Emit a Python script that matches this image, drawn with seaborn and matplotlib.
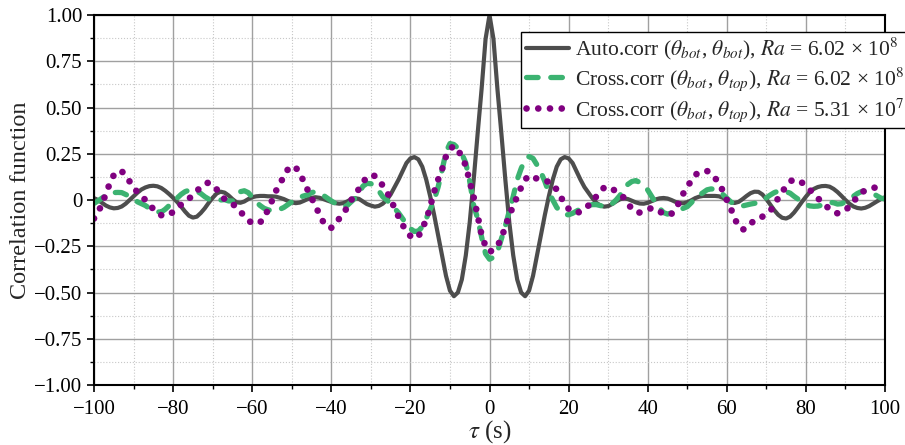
import numpy as np
import pandas as pd
import matplotlib
matplotlib.use("Agg")
import matplotlib.pyplot as plt
from matplotlib.ticker import MultipleLocator, FuncFormatter
import seaborn as sns

sns.set_theme(style="ticks")
plt.rcParams["font.family"] = ["Liberation Serif", "DejaVu Serif"]
plt.rcParams["mathtext.fontset"] = "stix"
plt.rcParams["axes.unicode_minus"] = True

# lag axis (s), one sample per second from -100 to 100
tau = np.arange(-100, 101)

# auto-correlation theta_bot / theta_bot, Ra = 6.02e8
auto_bot = [
    0.01, 0.0, -0.015, -0.03, -0.04, -0.045, -0.043, -0.035, -0.02, 0.0,          # -100
    0.02, 0.04, 0.057, 0.068, 0.075, 0.077, 0.074, 0.065, 0.05, 0.032,           # -90
    0.012, -0.01, -0.035, -0.062, -0.085, -0.095, -0.09, -0.07, -0.045, -0.015,   # -80
    0.012, 0.035, 0.045, 0.04, 0.025, 0.005, -0.012, -0.015, -0.008, 0.005,      # -70
    0.015, 0.02, 0.022, 0.022, 0.02, 0.02, 0.018, 0.012, 0.005, -0.005,          # -60
    -0.013, -0.017, -0.014, -0.005, 0.005, 0.012, 0.015, 0.012, 0.005, -0.003,   # -50
    -0.01, -0.017, -0.02, -0.017, -0.008, 0.004, 0.01, 0.006, -0.008, -0.022,    # -40
    -0.03, -0.036, -0.032, -0.02, 0.0, 0.03, 0.07, 0.11, 0.155, 0.2,             # -30
    0.225, 0.232, 0.22, 0.18, 0.11, 0.02, -0.08, -0.19, -0.30, -0.41,            # -20
    -0.49, -0.52, -0.50, -0.43, -0.30, -0.12, 0.11, 0.36, 0.60, 0.87,            # -10
    1.0, 0.87, 0.60, 0.36, 0.11, -0.12, -0.30, -0.43, -0.50, -0.52,              # 0
    -0.49, -0.41, -0.30, -0.19, -0.08, 0.02, 0.11, 0.18, 0.22, 0.232,            # 10
    0.225, 0.2, 0.155, 0.11, 0.07, 0.04, 0.01, -0.015, -0.03, -0.036,            # 20
    -0.033, -0.022, -0.008, 0.004, 0.009, 0.005, -0.004, -0.013, -0.019, -0.02,  # 30
    -0.015, -0.006, 0.003, 0.009, 0.011, 0.008, 0.0, -0.01, -0.016, -0.018,      # 40
    -0.012, -0.002, 0.01, 0.018, 0.022, 0.022, 0.022, 0.022, 0.02, 0.012,        # 50
    0.0, -0.012, -0.016, -0.01, 0.005, 0.022, 0.037, 0.045, 0.044, 0.03,         # 60
    0.005, -0.025, -0.055, -0.08, -0.096, -0.1, -0.09, -0.068, -0.04, -0.01,     # 70
    0.018, 0.043, 0.06, 0.07, 0.075, 0.076, 0.072, 0.06, 0.043, 0.022,           # 80
    0.0, -0.02, -0.035, -0.043, -0.046, -0.042, -0.033, -0.02, -0.007, 0.005,    # 90
    0.015,                                                                        # 100
]

# cross-correlation theta_bot / theta_top, Ra = 6.02e8
cross_hi = [
    -0.018, -0.005, 0.01, 0.025, 0.036, 0.04, 0.041, 0.04, 0.03, 0.02,           # -100
    0.005, -0.01, -0.02, -0.03, -0.045, -0.057, -0.064, -0.065, -0.05, -0.03,    # -90
    -0.01, 0.01, 0.03, 0.045, 0.053, 0.054, 0.048, 0.035, 0.018, 0.005,          # -80
    -0.002, -0.002, 0.0, 0.002, -0.005, -0.005, 0.02, 0.045, 0.05, 0.04,         # -70
    0.015, -0.01, -0.03, -0.045, -0.053, -0.058, -0.056, -0.05, -0.04, -0.025,   # -60
    -0.01, 0.002, 0.015, 0.022, 0.028, 0.04, 0.045, 0.035, 0.025, 0.01,          # -50
    -0.005, -0.018, -0.03, -0.038, -0.03, -0.01, 0.01, 0.04, 0.075, 0.09,        # -40
    0.088, 0.074, 0.05, 0.018, 0.0, -0.02, -0.045, -0.07, -0.1, -0.13,           # -30
    -0.155, -0.17, -0.168, -0.145, -0.1, -0.05, 0.0, 0.07, 0.16, 0.26,           # -20
    0.305, 0.3, 0.28, 0.25, 0.2, 0.1, -0.03, -0.1, -0.2, -0.29,                  # -10
    -0.32, -0.31, -0.28, -0.21, -0.14, -0.06, 0.02, 0.11, 0.17, 0.22,            # 0
    0.235, 0.225, 0.19, 0.15, 0.1, 0.04, 0.0, -0.04, -0.065, -0.078,             # 10
    -0.08, -0.072, -0.06, -0.048, -0.038, -0.03, -0.025, -0.025, -0.03, -0.035,  # 20
    -0.035, -0.02, 0.0, 0.025, 0.06, 0.085, 0.1, 0.105, 0.095, 0.075,            # 30
    0.054, 0.02, -0.015, -0.045, -0.068, -0.076, -0.07, -0.06, -0.054, -0.045,   # 40
    -0.036, -0.015, 0.01, 0.025, 0.04, 0.055, 0.06, 0.058, 0.045, 0.03,          # 50
    0.01, -0.01, -0.022, -0.03, -0.032, -0.027, -0.022, -0.018, -0.015, -0.005,  # 60
    0.012, 0.027, 0.04, 0.048, 0.05, 0.045, 0.037, 0.02, 0.005, -0.012,          # 70
    -0.025, -0.032, -0.034, -0.033, -0.028, -0.02, -0.012, -0.015, -0.022, -0.02,  # 80
    -0.01, 0.003, 0.02, 0.035, 0.045, 0.048, 0.045, 0.035, 0.022, 0.01,          # 90
    0.005,                                                                        # 100
]

# cross-correlation theta_bot / theta_top, Ra = 5.31e7
cross_lo = [
    -0.1, -0.065, -0.025, 0.035, 0.09, 0.135, 0.158, 0.155, 0.135, 0.1,          # -100
    0.07, 0.04, 0.02, 0.0, -0.022, -0.05, -0.072, -0.082, -0.087, -0.08,         # -90
    -0.064, -0.045, -0.025, -0.01, 0.007, 0.026, 0.048, 0.072, 0.088, 0.094,     # -80
    0.08, 0.058, 0.03, 0.005, -0.008, -0.02, -0.04, -0.06, -0.09, -0.11,         # -70
    -0.125, -0.13, -0.12, -0.1, -0.05, -0.004, 0.049, 0.085, 0.13, 0.165,        # -60
    0.185, 0.175, 0.148, 0.1, 0.055, 0.01, -0.03, -0.08, -0.12, -0.148,          # -50
    -0.15, -0.135, -0.1, -0.075, -0.04, -0.002, 0.03, 0.06, 0.095, 0.125,        # -40
    0.135, 0.13, 0.11, 0.078, 0.045, 0.005, -0.045, -0.09, -0.135, -0.165,       # -30
    -0.195, -0.207, -0.2, -0.15, -0.11, -0.036, 0.045, 0.11, 0.165, 0.237,       # -20
    0.275, 0.293, 0.27, 0.235, 0.185, 0.1, 0.015, -0.085, -0.19, -0.25,          # -10
    -0.28, -0.27, -0.25, -0.205, -0.145, -0.08, -0.035, 0.02, 0.068, 0.11,       # 0
    0.133, 0.125, 0.115, 0.108, 0.104, 0.098, 0.087, 0.055, 0.015, -0.015,       # 10
    -0.048, -0.065, -0.07, -0.063, -0.05, -0.03, -0.015, 0.02, 0.045, 0.068,     # 20
    0.072, 0.062, 0.045, 0.027, 0.013, -0.02, -0.048, -0.066, -0.068, -0.062,    # 30
    -0.052, -0.043, -0.048, -0.062, -0.075, -0.082, -0.075, -0.05, -0.01, 0.035,  # 40
    0.07, 0.105, 0.135, 0.15, 0.157, 0.157, 0.143, 0.12, 0.09, 0.05,             # 50
    0.0, -0.045, -0.1, -0.145, -0.16, -0.153, -0.13, -0.108, -0.1, -0.09,        # 60
    -0.077, -0.06, -0.025, 0.01, 0.045, 0.073, 0.1, 0.112, 0.105, 0.094,         # 70
    0.075, 0.055, 0.033, 0.01, -0.01, -0.03, -0.05, -0.065, -0.072, -0.068,      # 80
    -0.055, -0.035, -0.01, 0.018, 0.04, 0.052, 0.06, 0.067, 0.066, 0.063,        # 90
    0.06,                                                                         # 100
]

labels = [
    r"Auto.corr ($\theta_{bot}$, $\theta_{bot}$), $Ra$ = 6.02 × 10$^{8}$",
    r"Cross.corr ($\theta_{bot}$, $\theta_{top}$), $Ra$ = 6.02 × 10$^{8}$",
    r"Cross.corr ($\theta_{bot}$, $\theta_{top}$), $Ra$ = 5.31 × 10$^{7}$",
]

styles = {
    labels[0]: dict(color="#4d4d4d", lw=3.0, linestyle="-"),
    labels[1]: dict(color="#3cb371", lw=3.8, linestyle=(0, (2.2, 2.4)),
                    dash_capstyle="round"),
    labels[2]: dict(color="#800080", lw=4.8, linestyle=(0, (0.01, 1.75)),
                    dash_capstyle="round"),
}

df = pd.concat([
    pd.DataFrame({"tau": tau, "corr": vals, "series": lab})
    for lab, vals in zip(labels, [auto_bot, cross_hi, cross_lo])
])

fig = plt.figure(figsize=(9.05, 4.45), dpi=100)
ax = fig.add_axes([0.1039, 0.1348, 0.874, 0.8315])

for lab in labels:
    sns.lineplot(data=df[df["series"] == lab], x="tau", y="corr", ax=ax,
                 label=lab, **styles[lab])

ax.set_xlim(-100, 100)
ax.set_ylim(-1.0, 1.0)
ax.xaxis.set_major_locator(MultipleLocator(20))
ax.xaxis.set_minor_locator(MultipleLocator(10))
ax.yaxis.set_major_locator(MultipleLocator(0.25))
ax.yaxis.set_minor_locator(MultipleLocator(0.125))
ax.yaxis.set_major_formatter(FuncFormatter(
    lambda v, p: "0" if abs(v) < 1e-9 else f"{v:.2f}".replace("-", "\u2212")))
ax.xaxis.set_major_formatter(FuncFormatter(
    lambda v, p: f"{v:.0f}".replace("-", "\u2212")))

ax.set_axisbelow(True)
ax.grid(which="major", color="#a0a0a0", lw=1.0, ls="-")
ax.grid(which="minor", color="#c8c8c8", lw=0.8, ls=":")

for sp in ax.spines.values():
    sp.set_visible(True)
    sp.set_color("black")
    sp.set_linewidth(1.5)

ax.tick_params(which="major", direction="out", length=5, width=1.2,
               labelsize=15, colors="black")
ax.tick_params(axis="x", which="major", pad=6)
ax.tick_params(which="minor", direction="out", length=3, width=1.0,
               colors="black")

ax.set_xlabel(r"$\tau$ (s)", fontsize=18, labelpad=-1)
ax.set_ylabel("Correlation function", fontsize=17.5, labelpad=2)

leg = ax.legend(loc="upper right", bbox_to_anchor=(1.004, 0.929),
                bbox_transform=fig.transFigure, frameon=True, fancybox=False,
                edgecolor="black", framealpha=1, fontsize=15.5,
                handlelength=2.0, handletextpad=0.3, borderpad=0.2,
                labelspacing=0.15, borderaxespad=0)
leg.get_frame().set_linewidth(1.0)

fig.savefig("out.png", dpi=100)
